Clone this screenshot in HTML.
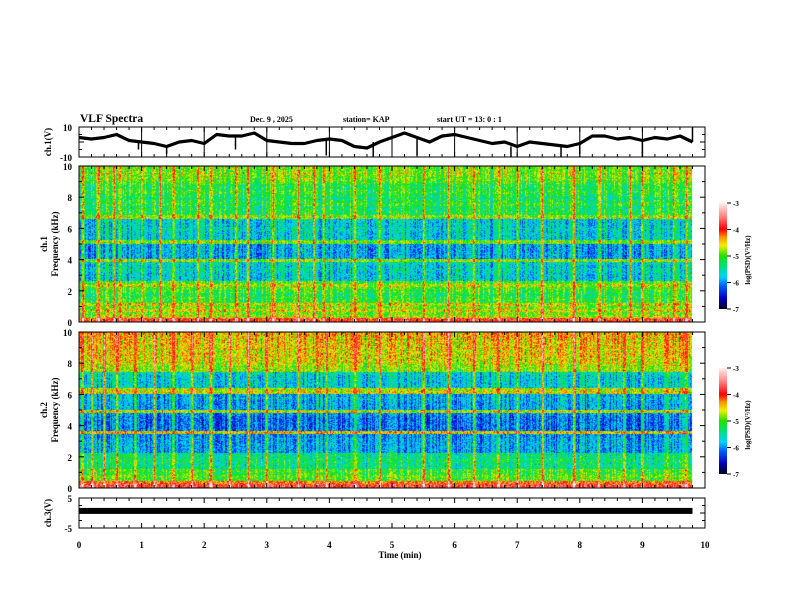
<!DOCTYPE html>
<html><head><meta charset="utf-8">
<style>
html,body{margin:0;padding:0;background:#fff;}
#wrap{position:relative;width:792px;height:612px;overflow:hidden;background:#fff;}
canvas,svg{position:absolute;left:0;top:0;}
text{font-family:"Liberation Serif",serif;font-weight:bold;fill:#000;}
</style></head>
<body>
<div id="wrap">
<canvas id="cv" width="792" height="612"></canvas>
<svg id="sv" width="792" height="612" xmlns="http://www.w3.org/2000/svg">
<defs>
<linearGradient id="cmap" x1="0" y1="1" x2="0" y2="0">
<stop offset="0" stop-color="#000020"/>
<stop offset="0.1" stop-color="#0000c0"/>
<stop offset="0.22" stop-color="#0060ff"/>
<stop offset="0.3" stop-color="#00d0ff"/>
<stop offset="0.4" stop-color="#00e080"/>
<stop offset="0.5" stop-color="#20e000"/>
<stop offset="0.6" stop-color="#f0f000"/>
<stop offset="0.68" stop-color="#ff9000"/>
<stop offset="0.75" stop-color="#ff0000"/>
<stop offset="0.87" stop-color="#ff8080"/>
<stop offset="1" stop-color="#fff0f0"/>
</linearGradient>
</defs>
<g id="g"></g>
</svg>
</div>
<script>
// ---- data ----
const ch1Times = [0,0.2,0.4,0.6,0.8,1.0,1.2,1.4,1.6,1.8,2.0,2.2,2.4,2.6,2.8,3.0,3.2,3.4,3.6,3.8,4.0,4.2,4.4,4.6,4.8,5.0,5.2,5.4,5.6,5.8,6.0,6.2,6.4,6.6,6.8,7.0,7.2,7.4,7.6,7.8,8.0,8.2,8.4,8.6,8.8,9.0,9.2,9.4,9.6,9.8];
const ch1Volts = [3,2,3,5,1,0,-1,-3,0,1,-1,5,4,4,6,1,0,-1,-1,1,2,1,-3,-4,0,3,6,3,0,4,5,3,1,-1,0,-3,0,-1,-2,-3,-1,4,4,2,3,1,3,2,4,0];
const ch1SpikeTimes = [0.95,1.4,2.5,3.95,4.7,5.4,6.9,7.7,8.0,9.0,9.8];
const ch1SpikeVolts = [-5,-8,-5,-9,-10,-9,-10,-10,-8,-10,10];
const ch3Level = 0.7;
const ch3Span = [0, 9.8];
// log PSD profiles, 0.2 kHz bins from 0 to 10 kHz
const ch1Profile = [-3.9,-4.7,-4.9,-4.6,-4.9,-4.6,-5.1,-5.1,-5.2,-5.1,-5.0,-4.7,-5.0,-5.7,-5.7,-5.7,-5.6,-5.7,-5.6,-4.8,-5.9,-5.9,-5.9,-5.9,-5.9,-4.9,-5.7,-5.7,-5.7,-5.6,-5.7,-5.7,-5.7,-4.8,-5.2,-5.2,-5.3,-5.1,-5.2,-5.3,-5.2,-5.1,-5.2,-5.2,-5.0,-4.9,-4.9,-4.8,-4.9,-4.9];
const ch2Profile = [-3.8,-4.2,-5.0,-4.9,-5.1,-5.0,-5.4,-5.4,-5.3,-5.4,-5.4,-5.9,-5.9,-5.9,-5.9,-5.9,-6.0,-4.5,-6.1,-6.1,-6.1,-6.1,-6.1,-6.0,-4.7,-5.9,-5.9,-5.9,-5.8,-5.9,-4.6,-4.7,-5.7,-5.7,-5.7,-5.7,-5.6,-4.8,-4.8,-4.7,-4.6,-4.6,-4.5,-4.6,-4.5,-4.5,-4.5,-4.5,-4.4,-4.4];
const streakTimes1 = [0.05,0.3,0.55,0.65,1.0,1.3,1.5,1.9,2.1,2.5,2.7,3.1,3.5,3.75,3.9,4.4,4.8,5.5,5.9,6.3,6.7,7.0,7.4,7.9,8.3,8.8,9.0,9.5,9.7];
const streakTimes2 = [0.05,0.2,0.4,0.6,0.9,1.2,1.5,1.8,2.1,2.4,2.7,3.0,3.5,3.8,3.95,4.4,4.8,5.5,5.9,6.3,6.7,7.0,7.4,7.9,8.3,8.7,9.0,9.4,9.7];
const xTickLabels = ["0","1","2","3","4","5","6","7","8","9","10"];
const cbTickLabels = ["-3","-4","-5","-6","-7"];

// ---- geometry ----
const X0=79, X1=705, TMAX=10, DATA_END=9.8;
const xs = t => X0 + (X1-X0)*t/TMAX;
const P1={top:127,bot:157,min:-10,max:10};
const S1={top:166,bot:322};
const S2={top:332,bot:488};
const P3={top:498,bot:528,min:-5,max:5};
const ys = (p,v) => p.bot - (p.bot-p.top)*(v-p.min)/(p.max-p.min);

// ---- spectrograms ----
const ctx=document.getElementById('cv').getContext('2d');
function cmap(v){
  const stops=[[-7,0,0,32],[-6.6,0,0,192],[-6.1,0,96,255],[-5.8,0,208,255],[-5.4,0,224,128],[-5.0,32,224,0],[-4.6,240,240,0],[-4.3,255,144,0],[-4.0,255,0,0],[-3.5,255,128,128],[-3.0,255,240,240]];
  if(v<=stops[0][0]) return stops[0].slice(1);
  for(let i=1;i<stops.length;i++){ if(v<=stops[i][0]){const a=stops[i-1],b=stops[i],f=(v-a[0])/(b[0]-a[0]);return [a[1]+(b[1]-a[1])*f,a[2]+(b[2]-a[2])*f,a[3]+(b[3]-a[3])*f];}}
  return stops[stops.length-1].slice(1);
}
function hash(a,b,s){let h=(a*374761393+b*668265263+s*982451653)|0;h=(h^(h>>>13))*1274126177|0;h=h^(h>>>16);return ((h>>>0)%10000)/10000;}
function drawSpec(S,profile,streaks,seed){
  const x0=Math.round(xs(0)), x1=Math.round(xs(DATA_END)), w=x1-x0, h=S.bot-S.top;
  const img=ctx.createImageData(w,h);
  const colAct=[];
  for(let c=0;c<w;c++){
    const t=(c/(X1-X0))*TMAX;
    let a=(hash(c,7,seed)-0.5)*1.0;
    for(const st of streaks){const d=Math.abs(t-st)*(X1-X0)/TMAX; if(d<2) a+=1.5*(1-d/2);}
    colAct.push(a);
  }
  for(let r=0;r<h;r++){
    const f=(h-1-r)/h*10; const bi=Math.min(profile.length-1,Math.floor(f/0.2));
    const base=profile[bi];
    const sens = base< -5.5 ? 0.8 : 0.7;
    for(let c=0;c<w;c++){
      const v=base+colAct[c]*sens+(hash(c,r,seed)-0.5)*0.8;
      const col=cmap(v); const k=(r*w+c)*4;
      img.data[k]=col[0];img.data[k+1]=col[1];img.data[k+2]=col[2];img.data[k+3]=255;
    }
  }
  ctx.putImageData(img,x0,S.top);
}
drawSpec(S1,ch1Profile,streakTimes1,1);
drawSpec(S2,ch2Profile,streakTimes2,2);

// ---- SVG ----
const NS='http://www.w3.org/2000/svg';
const g=document.getElementById('g');
function el(tag,attrs,parent){const e=document.createElementNS(NS,tag);for(const k in attrs)e.setAttribute(k,attrs[k]);(parent||g).appendChild(e);return e;}
function txt(x,y,s,size,anchor,rot){const e=el('text',{x:x,y:y,'font-size':size,'text-anchor':anchor||'start'});if(rot)e.setAttribute('transform','rotate(-90 '+x+' '+y+')');e.textContent=s;return e;}

// header
let e;
e=txt(80,122,'VLF Spectra',11.5);


e=txt(250,122,'Dec. 9  , 2025',8);


e=txt(343,122,'station= KAP',8);


e=txt(437,122,'start  UT  =    13: 0   : 1',8);



function panel(top,bot,name){
  const r=el('rect',{x:X0,y:top,width:X1-X0,height:bot-top,fill:'none',stroke:'#000','stroke-width':1});
  
  
  for(let i=0;i<=50;i++){
    const x=xs(i*0.2), L=(i%5===0)?5:3;
    el('line',{x1:x,y1:top,x2:x,y2:top+L,stroke:'#000','stroke-width':1});
    el('line',{x1:x,y1:bot,x2:x,y2:bot-L,stroke:'#000','stroke-width':1});
  }
}
function yticks(top,bot,n,major){
  for(let i=0;i<=n;i++){const y=top+(bot-top)*i/n; const L=(i%major===0)?5:3;
    el('line',{x1:X0,y1:y,x2:X0+L,y2:y,stroke:'#000'});el('line',{x1:X1,y1:y,x2:X1-L,y2:y,stroke:'#000'});}
}
// ch1 panel
panel(P1.top,P1.bot,'ch1-voltage-panel'); yticks(P1.top,P1.bot,4,2);
for(let m=1;m<10;m++){el('line',{x1:xs(m),y1:P1.top,x2:xs(m),y2:P1.bot,stroke:'#000','stroke-width':1});}
let pts=ch1Times.map((t,i)=>xs(t).toFixed(1)+','+ys(P1,ch1Volts[i]).toFixed(1)).join(' ');
e=el('polyline',{points:pts,fill:'none',stroke:'#000','stroke-width':3.2,'stroke-linejoin':'round'});


ch1SpikeTimes.forEach((t,i)=>{
  const idx=Math.min(ch1Times.length-1,Math.round(t/0.2));
  const s=el('line',{x1:xs(t),y1:ys(P1,ch1Volts[idx]),x2:xs(t),y2:ys(P1,ch1SpikeVolts[i]),stroke:'#000','stroke-width':1.5});
  
  
});
txt(72,131,'10',9,'end'); txt(72,161,'-10',9,'end');
e=txt(51,142,'ch.1(V)',9,'middle',true);



// spectrogram panels
[[S1,'ch.1','ch1-spectrogram-panel'],[S2,'ch.2','ch2-spectrogram-panel']].forEach(([S,lab,nm])=>{
  panel(S.top,S.bot,nm); yticks(S.top,S.bot,10,2);
  for(let k=0;k<=5;k++){const y=S.bot-(S.bot-S.top)*k/5; txt(72,y+4,String(k*2),9,'end');}
  const cy=(S.top+S.bot)/2;
  let t1=txt(47,cy,lab,9,'middle',true);
  
  
  let t2=txt(58,cy,'Frequency  (kHz)',9,'middle',true);
  
  
});

// ch3 panel
panel(P3.top,P3.bot,'ch3-voltage-panel'); yticks(P3.top,P3.bot,4,2);
e=el('rect',{x:xs(ch3Span[0]),y:ys(P3,ch3Level)-3,width:xs(ch3Span[1])-xs(ch3Span[0]),height:6,fill:'#000'});


txt(72,502,'5',9,'end'); txt(72,532,'-5',9,'end');
e=txt(51,513,'ch.3(V)',9,'middle',true);



// x labels
xTickLabels.forEach((s,i)=>{const t=txt(xs(i),548,s,9,'middle');
  
  });
e=txt(400,558,'Time  (min)',9,'middle');



// colorbars
[[203,309,'colorbar-ch1'],[368,474,'colorbar-ch2']].forEach(([t,b,nm])=>{
  const r=el('rect',{x:719,y:t,width:8,height:b-t,fill:'url(#cmap)'});
  
  
  cbTickLabels.forEach((s,i)=>{const y=t+(b-t)*i/4; el('line',{x1:727,y1:y,x2:731,y2:y,stroke:'#000'}); txt(733,y+3,s,7);});
  const lt=txt(750,(t+b)/2+4,'log(PSD)(V\u00B2/Hz)',7,'middle',true);
  
  
});
</script>
</body></html>
